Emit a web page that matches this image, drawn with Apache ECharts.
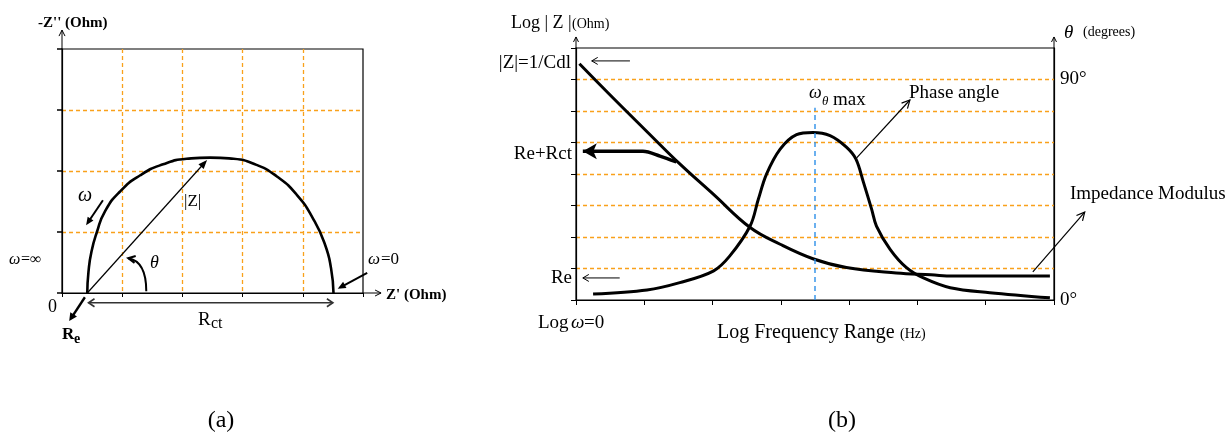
<!DOCTYPE html>
<html>
<head>
<meta charset="utf-8">
<script src="https://cdn.jsdelivr.net/npm/echarts@6/dist/echarts.min.js"></script>
<style>
html, body { margin: 0; padding: 0; background: #fff; }
#chart { width: 1226px; height: 432px; }
</style>
</head>
<body>
<div id="chart"></div>
<script>
// (a) Nyquist semicircle (Z' units, -Z'' units)
const nyqX = [0.42, 0.44, 0.49, 0.58, 0.71, 0.96, 1.30, 1.68, 2.07, 2.46, 2.85, 3.23, 3.57, 3.90, 4.17, 4.37, 4.47, 4.51];
const nyqY = [0, 0.35, 0.68, 1.0, 1.33, 1.66, 1.93, 2.11, 2.20, 2.22, 2.20, 2.10, 1.91, 1.61, 1.22, 0.79, 0.40, 0];

// (b) Bode plot: log|Z| (left units) and phase angle (degrees) vs log frequency
const modX = [0.05, 0.54, 1.0, 1.52, 2.01, 2.55, 2.99, 3.47, 3.96, 4.69, 5.2, 5.52, 6.94];
const modY = [7.5, 6.42, 5.43, 4.32, 3.36, 2.3, 1.77, 1.31, 1.03, 0.86, 0.8, 0.76, 0.76];
const plateauX = [0.1, 0.98, 1.23, 1.47];
const plateauY = [4.72, 4.72, 4.57, 4.38];
const phaseX = [0.25, 1.04, 1.52, 2.01, 2.25, 2.55, 2.67, 2.79, 2.99, 3.23, 3.47, 3.72, 3.96, 4.1, 4.21, 4.33, 4.4, 4.6, 4.84, 5.08, 5.48, 6.06, 6.94];
const phaseDeg = [2.4, 4.1, 7.1, 11.8, 17.9, 30.2, 41.1, 51.4, 61.6, 67.5, 68.4, 67.1, 62.4, 57.5, 48.0, 37.0, 30.2, 20.7, 13.2, 9.1, 5.0, 3.0, 0.9];
const omegaMaxX = 3.5;
const omegaMaxTop = 6.1;

const FONT = 'Liberation Serif';
const ORANGE = '#f9a11b';
const pairs = (xs, ys) => xs.map((x, i) => [x, ys[i]]);

const chart = echarts.init(document.getElementById('chart'));

const dashed = { show: true, lineStyle: { color: ORANGE, type: [4, 3], width: 1.3 }, showMinLine: false, showMaxLine: false };
const blackLine = { show: true, lineStyle: { color: '#000', width: 1.2 } };

chart.setOption({
    animation: false,
    backgroundColor: '#fff',
    grid: [
        { left: 62, top: 49, width: 301, height: 244, show: true, borderColor: '#000', borderWidth: 1.2 },
        { left: 576, top: 48, width: 478, height: 252, show: true, borderColor: '#000', borderWidth: 1.2 }
    ],
    xAxis: [
        { gridIndex: 0, type: 'value', min: 0, max: 5, interval: 1, axisLine: blackLine,
          axisTick: { show: true, length: 4, lineStyle: { color: '#000' } }, axisLabel: { show: false }, splitLine: dashed },
        { gridIndex: 1, type: 'value', min: 0, max: 7, interval: 1, axisLine: blackLine,
          axisTick: { show: true, length: 5, lineStyle: { color: '#000' } }, axisLabel: { show: false }, splitLine: { show: false } }
    ],
    yAxis: [
        { gridIndex: 0, type: 'value', min: 0, max: 4, interval: 1, axisLine: blackLine,
          axisTick: { show: true, length: 5, lineStyle: { color: '#000', width: 1.5 } }, axisLabel: { show: false }, splitLine: dashed },
        { gridIndex: 1, type: 'value', min: 0, max: 8, interval: 1, axisLine: blackLine,
          axisTick: { show: true, length: 5, lineStyle: { color: '#000' } }, axisLabel: { show: false }, splitLine: dashed },
        { gridIndex: 1, type: 'value', position: 'right', min: 0, max: 720 / 7, interval: 90 / 7, axisLine: blackLine,
          axisTick: { show: false }, splitLine: { show: false },
          axisLabel: { show: true, margin: 6, color: '#000', fontFamily: FONT, fontSize: 19,
              formatter: v => Math.abs(v) < 0.5 ? '0°' : (Math.abs(v - 90) < 0.5 ? '90°' : '') } }
    ],
    series: [
        { name: 'Nyquist', type: 'line', xAxisIndex: 0, yAxisIndex: 0, smooth: 0.55, symbol: 'none',
          lineStyle: { color: '#000', width: 2.6 }, data: pairs(nyqX, nyqY) },
        { name: 'Impedance Modulus', type: 'line', xAxisIndex: 1, yAxisIndex: 1, smooth: 0.4, symbol: 'none',
          lineStyle: { color: '#000', width: 3 }, data: pairs(modX, modY) },
        { name: 'Re+Rct', type: 'line', xAxisIndex: 1, yAxisIndex: 1, smooth: 0.3, symbol: 'none', showSymbol: true,
          lineStyle: { color: '#000', width: 3.4 }, itemStyle: { color: '#000' },
          data: pairs(plateauX, plateauY).map((p, i) => i === 0
              ? { value: p, symbol: 'arrow', symbolSize: [12, 14], symbolRotate: 90 } : { value: p, symbol: 'none' }) },
        { name: 'Phase angle', type: 'line', xAxisIndex: 1, yAxisIndex: 2, smooth: 0.35, symbol: 'none',
          lineStyle: { color: '#000', width: 3 }, data: pairs(phaseX, phaseDeg) },
        { name: 'omega max', type: 'line', xAxisIndex: 1, yAxisIndex: 1, symbol: 'none',
          lineStyle: { color: '#2b8fe8', width: 1.4, type: [5, 4] },
          data: [[omegaMaxX, 0], [omegaMaxX, omegaMaxTop]] }
    ]
});

// annotation arrows, placed in data units and converted through the axes
function arrowPx(p0, p1, o) {
    const w = o.w || 1, hl = o.head || 7, hw = o.hw || 6, col = o.color || '#000';
    const dx = p1[0] - p0[0], dy = p1[1] - p0[1], len = Math.hypot(dx, dy);
    const ux = dx / len, uy = dy / len, nx = -uy, ny = ux;
    const head = (tip, sx, sy) => {
        const bx = tip[0] - sx * hl, by = tip[1] - sy * hl;
        const l = [bx + nx * hw / 2, by + ny * hw / 2], r = [bx - nx * hw / 2, by - ny * hw / 2];
        return o.open
            ? { type: 'polyline', z: 100, silent: true, shape: { points: [l, tip, r] }, style: { stroke: col, lineWidth: o.hlw || w, fill: null } }
            : { type: 'polygon', z: 100, silent: true, shape: { points: [l, tip, r] }, style: { fill: col } };
    };
    const els = [{ type: 'line', z: 100, silent: true, shape: { x1: p0[0], y1: p0[1], x2: p1[0] - (o.open ? 0 : ux * 3), y2: p1[1] - (o.open ? 0 : uy * 3) },
        style: { stroke: col, lineWidth: w } }];
    els.push(head(p1, ux, uy));
    if (o.both) els.push(head(p0, -ux, -uy));
    return els;
}
const px = (g, v) => chart.convertToPixel({ gridIndex: g }, v);
const arrow = (g, a, b, o) => arrowPx(px(g, a), px(g, b), o || {});

const arrows = [
    // panel (a)
    [0, [0, 4], [0, 4.31], { open: true, head: 6, hw: 6 }],
    [0, [5, 0], [5.3, 0], { open: true, head: 6, hw: 6 }],
    [0, [0.42, 0], [2.41, 2.18], { w: 1.2, head: 9, hw: 7 }],
    [0, [0.68, 1.52], [0.40, 1.11], { w: 2, head: 8, hw: 7 }],
    [0, [5.07, 0.33], [4.58, 0.07], { w: 2, head: 8, hw: 7 }],
    [0, [0.38, -0.07], [0.12, -0.46], { w: 2.4, head: 8, hw: 8 }],
    [0, [0.44, -0.16], [4.5, -0.16], { w: 1.6, open: true, both: true, head: 6, hw: 8, color: '#333' }],
    // panel (b)
    [1, [0, 8], [0, 8.35], { open: true, head: 5, hw: 5 }],
    [1, [7, 8], [7, 8.35], { open: true, head: 5, hw: 5 }],
    [1, [0.79, 7.59], [0.23, 7.59], { open: true, head: 6, hw: 7 }],
    [1, [0.64, 0.70], [0.10, 0.70], { open: true, head: 6, hw: 7 }],
    [1, [4.11, 4.51], [4.89, 6.35], { w: 1.2, open: true, head: 8, hw: 8 }],
    [1, [6.69, 0.89], [7.45, 2.79], { w: 1.2, open: true, head: 8, hw: 8 }]
];

let graphics = [];
arrows.forEach(a => { graphics = graphics.concat(arrow(a[0], a[1], a[2], a[3])); });

// curved theta arrow in (a)
const t0 = px(0, [1.40, 0.03]), tc = px(0, [1.40, 0.52]), t1 = px(0, [1.10, 0.57]);
graphics.push({ type: 'bezierCurve', z: 100, silent: true,
    shape: { x1: t0[0], y1: t0[1], cpx1: tc[0], cpy1: tc[1], x2: t1[0], y2: t1[1] },
    style: { stroke: '#000', lineWidth: 2, fill: null } });
graphics = graphics.concat(arrowPx(tc, t1, { w: 0.1, open: true, head: 7, hw: 7, hlw: 2 }).slice(1));

function txt(x, y, s, size, o) {
    o = o || {};
    return { type: 'text', z: 100, silent: true, x: x, y: y,
        style: { text: s, fill: '#000', fontFamily: FONT, fontSize: size,
            fontWeight: o.bold ? 'bold' : 'normal', fontStyle: o.italic ? 'italic' : 'normal',
            textAlign: o.align || 'left', textVerticalAlign: 'middle' } };
}

graphics.push(
    // panel (a)
    txt(38, 23, "-Z'' (Ohm)", 15, { bold: true }),
    txt(386, 295, "Z' (Ohm)", 15, { bold: true }),
    txt(48, 307, '0', 18),
    txt(62, 335, 'R', 17, { bold: true }),
    txt(74, 339, 'e', 14, { bold: true }),
    txt(198, 320, 'R', 19),
    txt(211, 324, 'ct', 16),
    txt(184, 202, '|Z|', 17),
    txt(150, 263, 'θ', 18, { italic: true }),
    txt(78, 196, 'ω', 20, { italic: true }),
    txt(9, 260, 'ω', 16, { italic: true }),
    txt(21, 260, '=∞', 16),
    txt(368, 260, 'ω', 17, { italic: true }),
    txt(381, 260, '=0', 17),
    txt(221, 421, '(a)', 24, { align: 'center' }),
    // panel (b)
    txt(511, 23, 'Log | Z |', 18),
    txt(572, 24, '(Ohm)', 14),
    txt(1064, 33, 'θ', 19, { italic: true }),
    txt(1083, 32, '(degrees)', 14),
    txt(571, 63, '|Z|=1/Cdl', 19, { align: 'right' }),
    txt(572, 154, 'Re+Rct', 19, { align: 'right' }),
    txt(572, 278, 'Re', 19, { align: 'right' }),
    txt(538, 323, 'Log', 19),
    txt(571, 323, 'ω', 19, { italic: true }),
    txt(584, 323, '=0', 19),
    txt(717, 333, 'Log Frequency Range', 20),
    txt(900, 334, '(Hz)', 14),
    txt(809, 93, 'ω', 18, { italic: true }),
    txt(822, 102, 'θ', 13, { italic: true }),
    txt(833, 100, 'max', 19),
    txt(909, 93, 'Phase angle', 19),
    txt(1070, 194, 'Impedance Modulus', 19),
    txt(842, 421, '(b)', 24, { align: 'center' })
);

chart.setOption({ graphic: { elements: graphics } });
</script>
</body>
</html>
